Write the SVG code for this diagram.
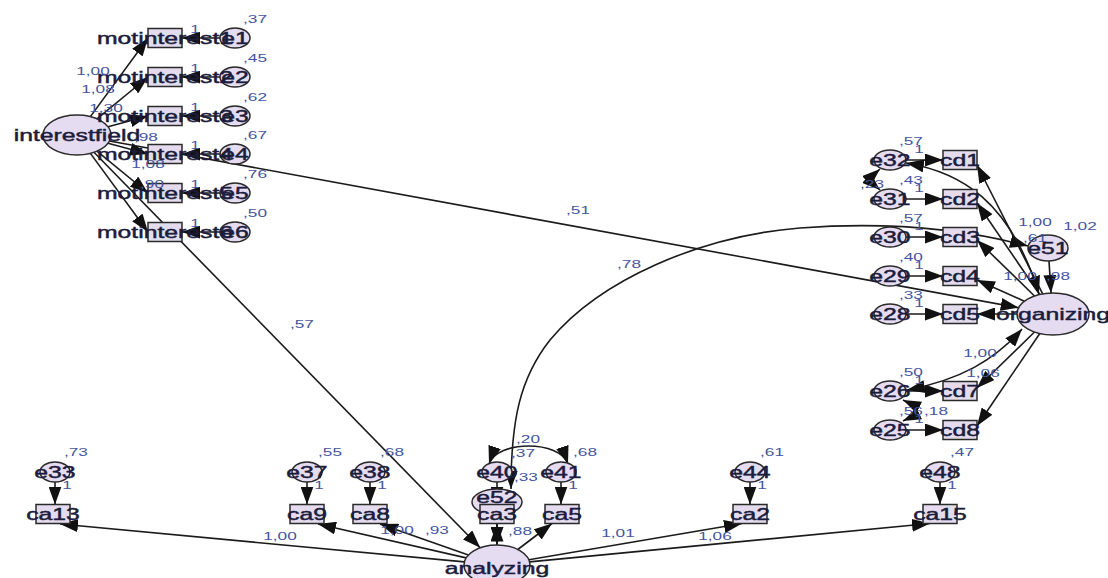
<svg xmlns="http://www.w3.org/2000/svg" width="1108" height="578" viewBox="0 0 1108 578">
<style>
.c{fill:none;stroke:#1b1b1b;stroke-width:1.6}
.a{marker-end:url(#ah)}
.d{marker-start:url(#ah);marker-end:url(#ah)}
.lat{fill:#e6dcf2;stroke:#2a2a2a;stroke-width:1.5}
.obs{fill:#e4dcee;stroke:#2a2a2a;stroke-width:1.5}
text{font-family:"Liberation Sans",Arial,sans-serif;text-anchor:middle;transform-box:fill-box;transform-origin:center;transform:scaleX(1.5)}
.n{font-size:16.5px;fill:#1c1c3c;stroke:#1c1c3c;stroke-width:0.45}
.v{font-size:11.5px;fill:#4455a0}
</style>
<defs>
<marker id="ah" markerUnits="userSpaceOnUse" markerWidth="18" markerHeight="13" refX="18" refY="6.5" orient="auto-start-reverse"><path d="M0,0 L18,6.5 L0,13 z" fill="#111"/></marker>
</defs>
<rect width="1108" height="578" fill="#ffffff"/>
<g id="connectors">
<path class="c a" d="M90.4,116.6 L148,38"/>
<path class="c a" d="M96.9,118.8 L148,77"/>
<path class="c a" d="M108,126.7 L148,116"/>
<path class="c a" d="M108,143.3 L148,154"/>
<path class="c a" d="M96.9,151.2 L148,193"/>
<path class="c a" d="M90.4,153.4 L148,232"/>
<path class="c a" d="M220,38 L182,38"/>
<path class="c a" d="M220,77 L182,77"/>
<path class="c a" d="M220,116 L182,116"/>
<path class="c a" d="M220,154 L182,154"/>
<path class="c a" d="M220,193 L182,193"/>
<path class="c a" d="M220,232 L182,232"/>
<path class="c a" d="M109.5,141 L1018.7,307.7"/>
<path class="c a" d="M94,152.3 L480.2,547.8"/>
<path class="c a" d="M906,160 L943,160"/>
<path class="c a" d="M906,199 L943,199"/>
<path class="c a" d="M906,237 L943,237"/>
<path class="c a" d="M906,276 L943,276"/>
<path class="c a" d="M906,314 L943,314"/>
<path class="c a" d="M906,391 L943,391"/>
<path class="c a" d="M906,430 L943,430"/>
<path class="c a" d="M1042.7,293.9 L977,165"/>
<path class="c a" d="M1039.6,294.5 L977,203"/>
<path class="c a" d="M1034.5,296 L977,240"/>
<path class="c a" d="M1024.4,301.2 L977,280"/>
<path class="c a" d="M1017,314 L977,314"/>
<path class="c a" d="M1034.5,332 L977,388"/>
<path class="c a" d="M1039.8,333.5 L977,426"/>
<path class="c a" d="M1049,261 L1051,293"/>
<path class="c d" d="M1028,246 C960,228 880,222 800,228 C700,236 600,280 550,340 C520,378 511,420 511,489"/>
<path class="c d" d="M906,163 C960,172 1010,200 1039,294"/>
<path class="c d" d="M1022,329 C995,360 960,380 907,390"/>
<path class="c d" d="M880,169 C871,177 871,182 880,190"/>
<path class="c d" d="M903,400 C918,407 918,414 903,421"/>
<path class="c a" d="M55,482 L55,504.5"/>
<path class="c a" d="M307,482 L307,504.5"/>
<path class="c a" d="M370,482 L370,504.5"/>
<path class="c a" d="M497,482 L497,504.5"/>
<path class="c a" d="M561,482 L561,504.5"/>
<path class="c a" d="M750,482 L750,504.5"/>
<path class="c a" d="M940,482 L940,504.5"/>
<path class="c a" d="M464.4,561.9 L60,524"/>
<path class="c a" d="M466.1,557.9 L318,524"/>
<path class="c a" d="M468.4,555 L380,524"/>
<path class="c a" d="M497,545 L497,523.5"/>
<path class="c a" d="M517.8,549.5 L552,523.5"/>
<path class="c a" d="M528.8,559.7 L742,523.5"/>
<path class="c a" d="M529.6,561.9 L930,523.5"/>
<path class="c a" d="M497,515 L497,545"/>
<path class="c d" d="M489,464 C497,440 560,440 568,464"/>
</g>
<g id="interestfield"><ellipse class="lat" cx="77" cy="135" rx="34" ry="20"/><text class="n" x="77" y="141">interestfield</text></g>
<g id="e1"><ellipse class="lat" cx="235" cy="38" rx="15" ry="10"/><text class="n" x="235" y="44">e1</text></g>
<g id="e2"><ellipse class="lat" cx="235" cy="77" rx="15" ry="10"/><text class="n" x="235" y="83">e2</text></g>
<g id="e3"><ellipse class="lat" cx="235" cy="116" rx="15" ry="10"/><text class="n" x="235" y="122">e3</text></g>
<g id="e4"><ellipse class="lat" cx="235" cy="154" rx="15" ry="10"/><text class="n" x="235" y="160">e4</text></g>
<g id="e5"><ellipse class="lat" cx="235" cy="193" rx="15" ry="10"/><text class="n" x="235" y="199">e5</text></g>
<g id="e6"><ellipse class="lat" cx="235" cy="232" rx="15" ry="10"/><text class="n" x="235" y="238">e6</text></g>
<g id="e32"><ellipse class="lat" cx="890" cy="160" rx="16" ry="10"/><text class="n" x="890" y="166">e32</text></g>
<g id="e31"><ellipse class="lat" cx="890" cy="199" rx="16" ry="10"/><text class="n" x="890" y="205">e31</text></g>
<g id="e30"><ellipse class="lat" cx="890" cy="237" rx="16" ry="10"/><text class="n" x="890" y="243">e30</text></g>
<g id="e29"><ellipse class="lat" cx="890" cy="276" rx="16" ry="10"/><text class="n" x="890" y="282">e29</text></g>
<g id="e28"><ellipse class="lat" cx="890" cy="314" rx="16" ry="10"/><text class="n" x="890" y="320">e28</text></g>
<g id="e26"><ellipse class="lat" cx="890" cy="391" rx="16" ry="10"/><text class="n" x="890" y="397">e26</text></g>
<g id="e25"><ellipse class="lat" cx="890" cy="430" rx="16" ry="10"/><text class="n" x="890" y="436">e25</text></g>
<g id="e51"><ellipse class="lat" cx="1048" cy="248" rx="20" ry="13"/><text class="n" x="1048" y="254">e51</text></g>
<g id="organizing"><ellipse class="lat" cx="1053" cy="314" rx="36" ry="21"/><text class="n" x="1053" y="320">organizing</text></g>
<g id="e33"><ellipse class="lat" cx="55" cy="472" rx="15" ry="10"/><text class="n" x="55" y="478">e33</text></g>
<g id="e37"><ellipse class="lat" cx="307" cy="472" rx="15" ry="10"/><text class="n" x="307" y="478">e37</text></g>
<g id="e38"><ellipse class="lat" cx="370" cy="472" rx="15" ry="10"/><text class="n" x="370" y="478">e38</text></g>
<g id="e40"><ellipse class="lat" cx="497" cy="472" rx="15" ry="10"/><text class="n" x="497" y="478">e40</text></g>
<g id="e41"><ellipse class="lat" cx="561" cy="472" rx="15" ry="10"/><text class="n" x="561" y="478">e41</text></g>
<g id="e44"><ellipse class="lat" cx="750" cy="472" rx="15" ry="10"/><text class="n" x="750" y="478">e44</text></g>
<g id="e48"><ellipse class="lat" cx="940" cy="472" rx="15" ry="10"/><text class="n" x="940" y="478">e48</text></g>
<g id="e52"><ellipse class="lat" cx="497" cy="502" rx="25" ry="13"/><text class="n" x="497" y="503">e52</text></g>
<g id="analyzing"><ellipse class="lat" cx="497" cy="565" rx="33" ry="20"/><text class="n" x="497" y="574">analyzing</text></g>
<g id="motinterest1"><rect class="obs" x="148" y="28.5" width="34" height="19"/><text class="n" x="165" y="44">motinterest1</text></g>
<g id="motinterest2"><rect class="obs" x="148" y="67.5" width="34" height="19"/><text class="n" x="165" y="83">motinterest2</text></g>
<g id="motinterest3"><rect class="obs" x="148" y="106.5" width="34" height="19"/><text class="n" x="165" y="122">motinterest3</text></g>
<g id="motinterest4"><rect class="obs" x="148" y="144.5" width="34" height="19"/><text class="n" x="165" y="160">motinterest4</text></g>
<g id="motinterest5"><rect class="obs" x="148" y="183.5" width="34" height="19"/><text class="n" x="165" y="199">motinterest5</text></g>
<g id="motinterest6"><rect class="obs" x="148" y="222.5" width="34" height="19"/><text class="n" x="165" y="238">motinterest6</text></g>
<g id="cd1"><rect class="obs" x="943" y="150.5" width="34" height="19"/><text class="n" x="960" y="166">cd1</text></g>
<g id="cd2"><rect class="obs" x="943" y="189.5" width="34" height="19"/><text class="n" x="960" y="205">cd2</text></g>
<g id="cd3"><rect class="obs" x="943" y="227.5" width="34" height="19"/><text class="n" x="960" y="243">cd3</text></g>
<g id="cd4"><rect class="obs" x="943" y="266.5" width="34" height="19"/><text class="n" x="960" y="282">cd4</text></g>
<g id="cd5"><rect class="obs" x="943" y="304.5" width="34" height="19"/><text class="n" x="960" y="320">cd5</text></g>
<g id="cd7"><rect class="obs" x="943" y="381.5" width="34" height="19"/><text class="n" x="960" y="397">cd7</text></g>
<g id="cd8"><rect class="obs" x="943" y="420.5" width="34" height="19"/><text class="n" x="960" y="436">cd8</text></g>
<g id="ca13"><rect class="obs" x="36" y="504.5" width="34" height="19"/><text class="n" x="53" y="520">ca13</text></g>
<g id="ca9"><rect class="obs" x="290" y="504.5" width="34" height="19"/><text class="n" x="307" y="520">ca9</text></g>
<g id="ca8"><rect class="obs" x="353" y="504.5" width="34" height="19"/><text class="n" x="370" y="520">ca8</text></g>
<g id="ca3"><rect class="obs" x="480" y="504.5" width="34" height="19"/><text class="n" x="497" y="520">ca3</text></g>
<g id="ca5"><rect class="obs" x="545" y="504.5" width="34" height="19"/><text class="n" x="562" y="520">ca5</text></g>
<g id="ca2"><rect class="obs" x="733" y="504.5" width="34" height="19"/><text class="n" x="750" y="520">ca2</text></g>
<g id="ca15"><rect class="obs" x="923" y="504.5" width="34" height="19"/><text class="n" x="940" y="520">ca15</text></g>
<g id="labels">
<text class="v" x="255" y="23">,37</text><text class="v" x="195" y="33">1</text>
<text class="v" x="255" y="62">,45</text><text class="v" x="195" y="72">1</text>
<text class="v" x="255" y="101">,62</text><text class="v" x="195" y="111">1</text>
<text class="v" x="255" y="139">,67</text><text class="v" x="195" y="149">1</text>
<text class="v" x="255" y="178">,76</text><text class="v" x="195" y="188">1</text>
<text class="v" x="255" y="217">,50</text><text class="v" x="195" y="227">1</text>
<text class="v" x="93" y="75">1,00</text>
<text class="v" x="98" y="93">1,08</text>
<text class="v" x="106" y="112">1,30</text>
<text class="v" x="146" y="141">,98</text>
<text class="v" x="148" y="168">1,08</text>
<text class="v" x="152" y="188">,90</text>
<text class="v" x="578" y="214">,51</text>
<text class="v" x="302" y="328">,57</text>
<text class="v" x="629" y="268">,78</text>
<text class="v" x="911" y="145">,57</text><text class="v" x="919" y="153">1</text>
<text class="v" x="911" y="184">,43</text><text class="v" x="919" y="192">1</text>
<text class="v" x="911" y="222">,57</text><text class="v" x="919" y="230">1</text>
<text class="v" x="911" y="261">,40</text><text class="v" x="919" y="269">1</text>
<text class="v" x="911" y="299">,33</text><text class="v" x="919" y="307">1</text>
<text class="v" x="911" y="376">,50</text><text class="v" x="919" y="384">1</text>
<text class="v" x="911" y="415">,56</text><text class="v" x="919" y="423">1</text>
<text class="v" x="936" y="415">,18</text>
<text class="v" x="872" y="188">,23</text>
<text class="v" x="1035" y="226">1,00</text>
<text class="v" x="1080" y="230">1,02</text>
<text class="v" x="1035" y="242">,61</text>
<text class="v" x="1020" y="280">1,00</text>
<text class="v" x="1058" y="280">,98</text>
<text class="v" x="980" y="357">1,00</text>
<text class="v" x="983" y="377">1,06</text>
<text class="v" x="76" y="456">,73</text><text class="v" x="67" y="489">1</text>
<text class="v" x="330" y="456">,55</text><text class="v" x="319" y="489">1</text>
<text class="v" x="392" y="456">,68</text><text class="v" x="382" y="489">1</text>
<text class="v" x="523" y="457">,37</text><text class="v" x="528" y="443">,20</text>
<text class="v" x="585" y="456">,68</text><text class="v" x="573" y="489">1</text>
<text class="v" x="772" y="456">,61</text><text class="v" x="762" y="489">1</text>
<text class="v" x="962" y="456">,47</text><text class="v" x="952" y="489">1</text>
<text class="v" x="526" y="481">,33</text>
<text class="v" x="520" y="535">,88</text>
<text class="v" x="397" y="534">1,00</text>
<text class="v" x="437" y="534">,93</text>
<text class="v" x="280" y="540">1,00</text>
<text class="v" x="618" y="537">1,01</text>
<text class="v" x="715" y="540">1,06</text>
</g>
</svg>
